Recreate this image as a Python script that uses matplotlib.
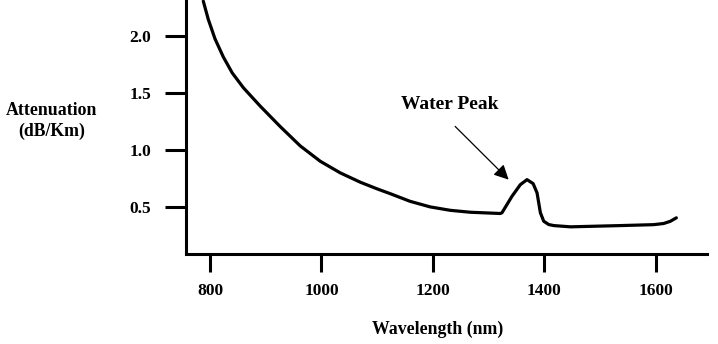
import matplotlib
matplotlib.use("Agg")
import matplotlib.pyplot as plt

plt.rcParams['font.family'] = ['Liberation Serif', 'DejaVu Serif']
plt.rcParams['font.weight'] = 'bold'

# curve (wavelength nm, attenuation dB/Km)
wavelength = [788, 797, 809, 824, 840, 860, 890, 926, 962, 998, 1034, 1070, 1100,
              1124, 1159, 1195, 1231, 1267, 1321,
              1324, 1342, 1357, 1369, 1380, 1387, 1393, 1399, 1408, 1417, 1447,
              1537, 1596, 1614, 1626, 1637]
attenuation = [2.31, 2.15, 1.98, 1.82, 1.68, 1.55, 1.39, 1.21, 1.04, 0.905, 0.803,
               0.721, 0.663, 0.62, 0.554, 0.505, 0.475, 0.458, 0.447,
               0.453, 0.598, 0.70, 0.744, 0.709, 0.628, 0.453, 0.379, 0.35, 0.341,
               0.33, 0.341, 0.349, 0.359, 0.378, 0.409]

x_ticks = [800, 1000, 1200, 1400, 1600]
y_ticks = [0.5, 1.0, 1.5, 2.0]

fig = plt.figure(figsize=(7.18, 3.44), dpi=100)
ax = fig.add_axes([186 / 718, 1 - 253.5 / 344, (707 - 186) / 718, 253.5 / 344])

ax.plot(wavelength, attenuation, color='black', linewidth=2.3,
        solid_capstyle='round', solid_joinstyle='round')

ax.set_xlim(757, 1692)
ax.set_ylim(0.096, 2.32)
ax.set_xticks(x_ticks)
ax.set_yticks(y_ticks)
ax.set_yticklabels(['0.5', '1.0', '1.5', '2.0'])

for side in ['top', 'right']:
    ax.spines[side].set_visible(False)
for side in ['left', 'bottom']:
    ax.spines[side].set_linewidth(2.2)

ax.tick_params(axis='both', direction='out', width=2.2, labelsize=12.5)
ax.tick_params(axis='x', length=13, pad=8)
ax.tick_params(axis='y', length=15, pad=10)

# water peak label and arrow
ax.text(1230, 1.40, 'Water Peak', ha='center', va='center', fontsize=14,
        fontweight='bold')
ax.annotate('', xy=(1336, 0.744), xytext=(1240, 1.211),
            arrowprops=dict(arrowstyle='-|>', color='black', lw=0.9,
                            mutation_scale=22, shrinkA=0, shrinkB=0))

fig.text(52 / 718, 1 - 121 / 344, 'Attenuation\n(dB/Km)', ha='center', va='center',
         fontsize=12.8, fontweight='bold', linespacing=1.25)
fig.text(438 / 718, 1 - 329 / 344, 'Wavelength (nm)', ha='center', va='center',
         fontsize=12.8, fontweight='bold')

fig.savefig('out.png', dpi=100)
